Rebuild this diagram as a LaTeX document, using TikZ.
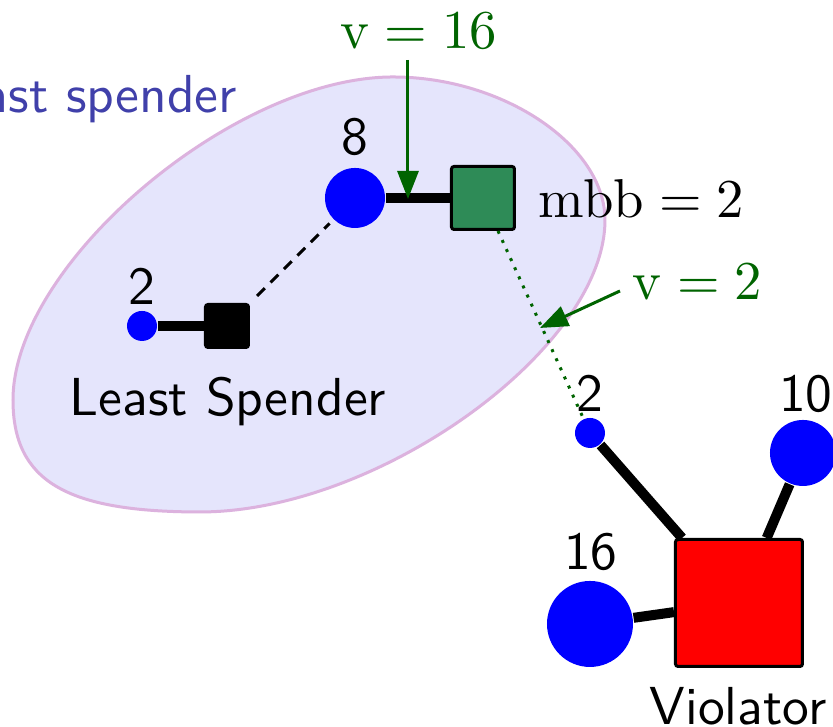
\documentclass[tikz,border=0pt]{standalone}
\usetikzlibrary{arrows.meta}
\definecolor{ellfill}{RGB}{229,229,252}
\definecolor{ellline}{RGB}{220,178,222}
\definecolor{lsblue}{RGB}{64,64,170}
\definecolor{vgreen}{RGB}{0,100,0}
\definecolor{sqgreen}{RGB}{46,139,87}
\definecolor{nodeblue}{RGB}{0,0,255}
\begin{document}
\begin{tikzpicture}[x=0.2pt,y=-0.2pt,
  dot/.style={circle,fill=nodeblue,inner sep=0pt,minimum size=#1},
  sqbox/.style={rectangle,draw=black,line width=0.6pt,inner sep=0pt,minimum size=#1,rounded corners=0.5pt},
  lab/.style={inner sep=0pt,anchor=base,font=\fontsize{10.7}{12}\selectfont\sffamily},
  mlab/.style={inner sep=0pt,anchor=base,font=\fontsize{10.6}{13}\selectfont},
  edgeline/.style={line width=2pt},
  varrow/.style={vgreen,line width=0.6pt,-{Triangle[length=5.6pt,width=4.2pt]}},
]
\clip (0,0) rectangle (833,727);
\fill[white] (0,0) rectangle (833,727);
% region
\filldraw[fill=ellfill,draw=ellline,line width=0.6pt]
  (393,77) .. controls (503.2,77) and (605,145.6) .. (605,220)
  .. controls (605,348.5) and (378.2,512) .. (200,512)
  .. controls (65.4,512) and (13,480.6) .. (13,400)
  .. controls (13,264.3) and (233.4,77) .. cycle;
\node[lab,anchor=base east,text=lsblue] (lsTop) at (238,113) {Least spender};
% nodes
\node[dot=6pt] (c2a) at (142,326) {};
\node[sqbox=8.6pt,fill=black] (sqA) at (227,326) {};
\node[dot=12pt] (c8) at (355,198) {};
\node[sqbox=12.6pt,fill=sqgreen] (sqG) at (483,198) {};
\node[dot=6pt] (c2b) at (590,433) {};
\node[dot=13.2pt] (c10) at (803,453) {};
\node[dot=17.2pt] (c16) at (590,624) {};
\node[sqbox=25.4pt,fill=red] (sqR) at (739,603) {};
% labels
\node[lab] (l2a) at (142,305) {2};
\node[lab] (l8) at (355,155) {8};
\node[lab] (lLS) at (228,416) {Least Spender};
\node[lab] (l2b) at (590,412) {2};
\node[lab] (l10) at (806,412) {10};
\node[lab] (l16) at (591,570) {16};
\node[lab] (lV) at (738,725) {Violator};
\node[mlab,anchor=base west] (lmbb) at (538,218) {$\mathrm{mbb}=2$};
\node[mlab,text=vgreen] (lv16) at (419,49) {$\mathrm{v}=16$};
\node[mlab,anchor=base west,text=vgreen] (lv2) at (632,300) {$\mathrm{v}=2$};
% connectors
\draw[edgeline] (c2a) -- (sqA);
\draw[line width=0.6pt,dash pattern=on 2.2pt off 1.6pt,shorten <=2pt,shorten >=1pt] (sqA) -- (c8);
\draw[edgeline] (c8) -- (sqG);
\draw[vgreen,line width=0.6pt,dash pattern=on 0.6pt off 1.4pt] (sqG) -- (c2b);
\draw[edgeline] (c2b) -- (sqR);
\draw[edgeline] (c10) -- (sqR);
\draw[edgeline] (c16) -- (sqR);
% arrows
\coordinate (a16s) at (408,60);
\coordinate (a16e) at (408,199);
\draw[varrow] (a16s) -- (a16e);
\coordinate (a2s) at (620,291);
\coordinate (a2e) at (540,328);
\draw[varrow] (a2s) -- (a2e);
\end{tikzpicture}
\end{document}
